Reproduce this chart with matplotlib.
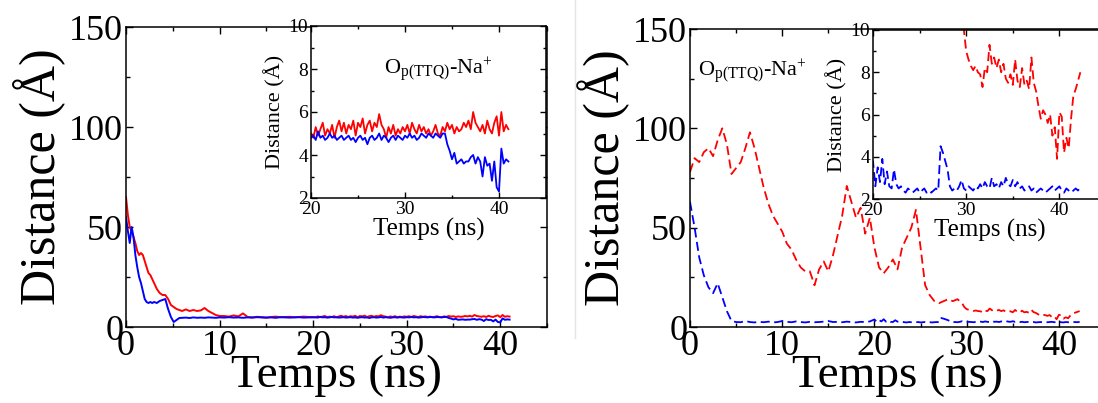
import numpy as np
import matplotlib
matplotlib.use('Agg')
import matplotlib.pyplot as plt
from matplotlib.ticker import MultipleLocator
from matplotlib.lines import Line2D

# --- left panel (solid lines), time in ns, distance in Angstrom
t_left_early = [0, 0.2, 0.4, 0.6, 0.8, 1.0, 1.2, 1.4, 1.6, 1.8, 2.0, 2.2, 2.4, 2.6, 2.8,
                3.0, 3.3, 3.6, 3.9, 4.2, 4.5, 4.8, 5.1, 5.4, 5.7, 6.0, 6.4, 6.8, 7.2, 7.6,
                8.0, 8.4, 8.8, 9.2, 9.6, 10.0, 10.5, 11.0, 11.5, 12.0, 12.5, 13.0, 13.5,
                14.0, 14.5, 15.0, 15.5, 16.0, 16.5, 17.0, 17.5, 18.0, 18.5, 19.0, 19.5]
red_left_early = [65, 56, 50, 48, 45, 42, 38, 36, 37, 36, 33, 30, 27, 26, 24,
                  22, 19, 17, 16, 16, 14, 11, 10, 9, 8.5, 8, 8.8, 8, 8.5, 8,
                  8.3, 9.5, 8, 7, 6, 5.5, 5.5, 5.2, 5.8, 5.3, 6.8, 5.0, 4.8,
                  5.1, 4.9, 4.7, 5.0, 5.2, 4.9, 5.0, 5.1, 4.9, 5.0, 5.2, 5.0]
blue_left_early = [55, 48, 42, 50, 45, 36, 30, 25, 22, 18, 14, 12.5, 12, 12.5, 12,
                   12.5, 12, 13, 13.5, 14, 9, 5, 2.5, 3.5, 4.5, 4.6, 4.7, 4.5, 4.8, 4.6,
                   4.7, 4.6, 4.8, 4.7, 4.6, 4.8, 4.7, 4.9, 4.7, 4.8, 4.6, 4.8, 4.7,
                   4.9, 4.8, 4.7, 4.8, 4.6, 4.9, 4.8, 4.7, 4.8, 4.9, 4.7, 4.8]
# 20 -> 41 ns, every 0.25 ns
t_left_late = np.linspace(20, 41, 85)
red_left_late = [5.0, 4.8, 5.3, 4.9, 5.2, 5.5, 4.9, 5.2, 5.0, 5.4, 4.8, 5.3, 5.6, 5.1, 5.5,
                 5.0, 5.4, 5.2, 5.6, 4.9, 5.5, 5.3, 5.7, 5.0, 5.4, 5.6, 5.1, 5.5, 5.3, 5.9,
                 5.4, 5.2, 4.8, 5.3, 5.0, 5.4, 4.9, 5.2, 5.0, 5.3, 5.1, 5.4, 5.0, 5.5, 5.2,
                 5.0, 5.4, 5.1, 5.3, 5.0, 5.2, 4.9, 5.1, 5.4, 5.0, 4.9, 5.3, 5.1, 5.5, 5.2,
                 5.4, 5.0, 5.3, 5.1, 5.2, 5.5, 5.3, 5.6, 5.2, 6.0, 5.5, 5.3, 5.1, 5.4, 5.0,
                 5.6, 5.2, 5.0, 5.5, 5.8, 4.9, 6.0, 5.1, 5.4, 5.2]
blue_left_late = [4.8, 4.9, 4.7, 5.1, 4.8, 4.9, 4.7, 4.8, 5.0, 4.8, 4.9, 4.7, 4.8, 4.9, 4.7,
                  4.8, 4.9, 4.7, 4.8, 4.6, 4.8, 4.9, 4.7, 4.8, 4.5, 4.8, 4.9, 4.7, 4.8, 5.0,
                  4.7, 4.9, 4.8, 4.6, 4.8, 4.9, 4.7, 4.9, 4.8, 4.7, 4.9, 4.8, 5.0, 4.8, 4.9,
                  4.7, 4.8, 5.0, 4.9, 4.8, 5.0, 4.9, 4.8, 5.0, 4.9, 4.8, 5.0, 5.0, 4.5, 4.2,
                  3.8, 4.1, 3.6, 3.7, 3.8, 3.6, 3.7, 3.7, 3.9, 4.0, 3.6, 3.9, 3.7, 3.0, 3.9,
                  3.5, 3.6, 2.8, 3.7, 2.5, 2.3, 4.3, 3.6, 3.8, 3.7]

# --- right panel (dashed lines)
t_right_a = np.linspace(0, 29.5, 60)   # every 0.5 ns
red_right_a = [78, 85, 83, 88, 90, 86, 94, 100, 92, 77, 80, 83, 90, 98, 90,
               80, 70, 62, 56, 52, 48, 42, 39, 34, 30, 28, 28, 21, 29, 33,
               28, 36, 46, 56, 71, 63, 55, 60, 47, 55, 40, 30, 27, 30, 34,
               29, 40, 45, 50, 59, 40, 21, 16, 13, 12, 13, 14, 13, 14, 12]
t_right_b = np.linspace(29.75, 42.25, 51)   # every 0.25 ns
red_right_b = [10, 9.0, 8.6, 8.3, 8.1, 8.3, 8.0, 7.9, 7.3, 8.2, 8.0, 9.3, 8.4, 8.7, 8.2,
               8.6, 8.0, 8.4, 7.7, 7.5, 7.9, 7.4, 8.6, 7.6, 7.3, 8.2, 7.4, 7.6, 7.2, 8.7,
               7.5, 7.1, 6.4, 5.8, 6.2, 6.0, 5.6, 6.0, 5.0, 5.4, 3.9, 6.1, 5.9, 4.2, 4.9,
               4.4, 5.8, 6.9, 7.2, 7.6, 8.0]
t_right_c = np.linspace(0, 19.5, 40)
blue_right_c = [63, 50, 35, 26, 20, 17, 22, 15, 8, 3, 2.5, 2.4, 3.0, 2.5, 2.3,
                2.6, 2.4, 2.7, 2.3, 2.5, 3.0, 2.6, 2.4, 2.8, 2.5, 2.3, 2.6, 2.4, 2.5, 2.7,
                3.0, 2.5, 2.6, 2.4, 2.7, 2.5, 2.3, 2.6, 2.5, 2.8]
t_right_d = np.linspace(20, 42.25, 90)
blue_right_d = [3.8, 2.6, 3.5, 2.8, 3.9, 2.7, 3.3, 2.6, 2.5, 3.4, 2.7, 2.5, 2.6, 2.4, 2.3,
                2.5, 2.4, 2.3, 2.4, 2.5, 2.3, 2.4, 2.5, 2.3, 2.4, 2.3, 2.4, 2.5, 2.4, 4.5,
                4.2, 3.8, 3.4, 2.6, 2.4, 2.5, 2.4, 2.6, 2.9, 2.5, 2.4, 2.6, 2.5, 2.4, 2.6,
                2.5, 2.7, 2.5, 2.8, 2.6, 2.5, 3.0, 2.6, 2.7, 2.5, 2.8, 2.6, 3.0, 2.7, 2.6,
                2.9, 2.6, 2.8, 2.5, 2.6, 2.4, 2.5, 2.6, 2.4, 2.5, 2.3, 2.4, 2.5, 2.4, 2.3,
                2.4, 2.5, 2.6, 2.4, 2.5, 2.6, 2.4, 2.3, 2.5, 2.4, 2.3, 2.4, 2.5, 2.4, 2.6]

label_txt = r'O$_{\mathrm{p(TTQ)}}$-Na$^{+}$'

t_left = np.concatenate([t_left_early, t_left_late])
red_left = np.concatenate([red_left_early, red_left_late])
blue_left = np.concatenate([blue_left_early, blue_left_late])
t_red_r = np.concatenate([t_right_a, t_right_b])
red_right = np.concatenate([red_right_a, red_right_b])
t_blue_r = np.concatenate([t_right_c, t_right_d])
blue_right = np.concatenate([blue_right_c, blue_right_d])

plt.rcParams['font.family'] = 'Liberation Serif'
plt.rcParams['mathtext.fontset'] = 'custom'
plt.rcParams['mathtext.rm'] = 'Liberation Serif'
plt.rcParams['mathtext.it'] = 'Liberation Serif:italic'

W, H = 1098, 403
fig = plt.figure(figsize=(W / 100, H / 100), dpi=100)


def box(x0, y0, x1, y1):
    # pixel box -> figure fraction
    return [x0 / W, 1 - y1 / H, (x1 - x0) / W, (y1 - y0) / H]


def style(ax, xmaj, ymaj, size, lmaj, lmin, pad):
    ax.xaxis.set_major_locator(MultipleLocator(xmaj))
    ax.xaxis.set_minor_locator(MultipleLocator(xmaj / 2))
    ax.yaxis.set_major_locator(MultipleLocator(ymaj))
    ax.yaxis.set_minor_locator(MultipleLocator(ymaj / 2))
    ax.tick_params(which='both', direction='in', top=True, right=True,
                   labelsize=size, pad=pad, width=1)
    ax.tick_params(which='major', length=lmaj)
    ax.tick_params(which='minor', length=lmin)
    for s in ax.spines.values():
        s.set_linewidth(1.1)


dash = (0, (5, 2.5))

# left main
ax1 = fig.add_axes(box(126, 27, 547, 327))
ax1.plot(t_left, red_left, color='#ff0000', lw=1.4)
ax1.plot(t_left, blue_left, color='#0000ff', lw=1.4)
ax1.set_xlim(0, 45)
ax1.set_ylim(0, 150)
style(ax1, 10, 50, 26, 5, 3, 2)
ax1.set_xlabel('Temps (ns)', fontsize=34, labelpad=-6)
ax1.set_ylabel('Distance (Å)', fontsize=36, labelpad=2)

# left inset
in1 = fig.add_axes(box(311, 26, 546, 198))
in1.plot(t_left, red_left, color='#ff0000', lw=1.3)
in1.plot(t_left, blue_left, color='#0000ff', lw=1.3)
in1.set_xlim(20, 45)
in1.set_ylim(2, 10)
style(in1, 10, 2, 14, 4, 2.5, 2)
in1.set_xlabel('Temps (ns)', fontsize=18, labelpad=0)
in1.set_ylabel('Distance (Å)', fontsize=16, labelpad=2)
in1.text(0.31, 0.72, label_txt, transform=in1.transAxes, fontsize=16)

# right main
ax2 = fig.add_axes(box(690, 29, 1105, 327))
ax2.plot(t_red_r, red_right, color='#ff0000', lw=1.3, linestyle=dash)
ax2.plot(t_blue_r, blue_right, color='#0000ff', lw=1.3, linestyle=dash)
ax2.set_xlim(0, 45)
ax2.set_ylim(0, 150)
style(ax2, 10, 50, 26, 5, 3, 2)
ax2.set_xlabel('Temps (ns)', fontsize=34, labelpad=-6)
ax2.set_ylabel('Distance (Å)', fontsize=36, labelpad=2)
ax2.text(0.02, 0.84, label_txt, transform=ax2.transAxes, fontsize=16)

# right inset
in2 = fig.add_axes(box(873, 30, 1106, 199))
in2.plot(t_red_r, red_right, color='#ff0000', lw=1.3, linestyle=dash)
in2.plot(t_blue_r, blue_right, color='#0000ff', lw=1.3, linestyle=dash)
in2.set_xlim(20, 45)
in2.set_ylim(2, 10)
style(in2, 10, 2, 14, 4, 2.5, 2)
in2.set_xlabel('Temps (ns)', fontsize=18, labelpad=0)
in2.set_ylabel('Distance (Å)', fontsize=16, labelpad=2)

# thin separator between the two panels
fig.add_artist(Line2D([575 / W, 575 / W], [1, 1 - 338 / H], color='#e4e4e4', lw=1,
                      transform=fig.transFigure))

fig.savefig('out.png', dpi=100)
